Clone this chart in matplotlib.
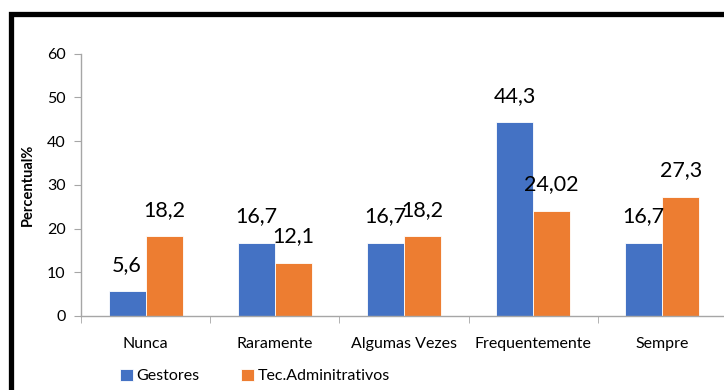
import numpy as np
import matplotlib.pyplot as plt
from matplotlib.patches import Rectangle

plt.rcParams['font.family'] = ['Lato', 'DejaVu Sans']

categorias = ['Nunca', 'Raramente', 'Algumas Vezes', 'Frequentemente', 'Sempre']
gestores = [5.6, 16.7, 16.7, 44.3, 16.7]
tec_admin = [18.2, 12.1, 18.2, 24.02, 27.3]
rot_gestores = ['5,6', '16,7', '16,7', '44,3', '16,7']
rot_tec = ['18,2', '12,1', '18,2', '24,02', '27,3']

azul = '#4472c4'
laranja = '#ed7d31'
cinza = '#a6a6a6'

fig = plt.figure(figsize=(7.24, 3.9), dpi=100)
ax = fig.add_axes([0.112, 0.19, 0.892, 0.672])

x = np.arange(len(categorias))
w = 0.287
b1 = ax.bar(x - w / 2, gestores, w, color=azul, edgecolor='white', linewidth=0.6, label='Gestores')
b2 = ax.bar(x + w / 2, tec_admin, w, color=laranja, edgecolor='white', linewidth=0.6, label='Tec.Adminitrativos')

for barras, rotulos in ((b1, rot_gestores), (b2, rot_tec)):
    for r, txt in zip(barras, rotulos):
        ax.annotate(txt, (r.get_x() + r.get_width() / 2, r.get_height()),
                    xytext=(0, 12), textcoords='offset points',
                    ha='center', va='bottom', fontsize=15.5)

ax.set_xlim(-0.5, len(categorias) - 0.5)
ax.set_ylim(0, 60)
ax.set_yticks(range(0, 61, 10))
ax.set_xticks(x)
ax.set_xticklabels(categorias, fontsize=11.5)
ax.set_xticks(np.arange(-0.5, len(categorias)), minor=True)
ax.tick_params(axis='x', which='major', length=0, pad=15)
ax.tick_params(axis='x', which='minor', length=5, color=cinza, direction='out')
ax.tick_params(axis='y', length=5, color=cinza, labelsize=11.5, pad=6)

for s in ('top', 'right'):
    ax.spines[s].set_visible(False)
for s in ('left', 'bottom'):
    ax.spines[s].set_color(cinza)
    ax.spines[s].set_linewidth(1)

ax.set_ylabel('Percentual%', fontsize=10.5, fontweight='bold')
ax.yaxis.set_label_coords(-0.072, 0.5)

fig.legend(handles=[b1, b2], loc='center left', bbox_to_anchor=(0.146, 0.036),
           frameon=False, fontsize=11.5, ncol=2, handlelength=0.82, handleheight=0.82,
           handletextpad=0.2, columnspacing=2.6)

# moldura preta (lado esquerdo e topo)
fig.add_artist(Rectangle((10.5 / 724, -0.1), 1.2, 1 - 13.5 / 390 + 0.1,
                         transform=fig.transFigure, fill=False,
                         edgecolor='black', linewidth=3.8))

fig.savefig('out.png', dpi=100)
